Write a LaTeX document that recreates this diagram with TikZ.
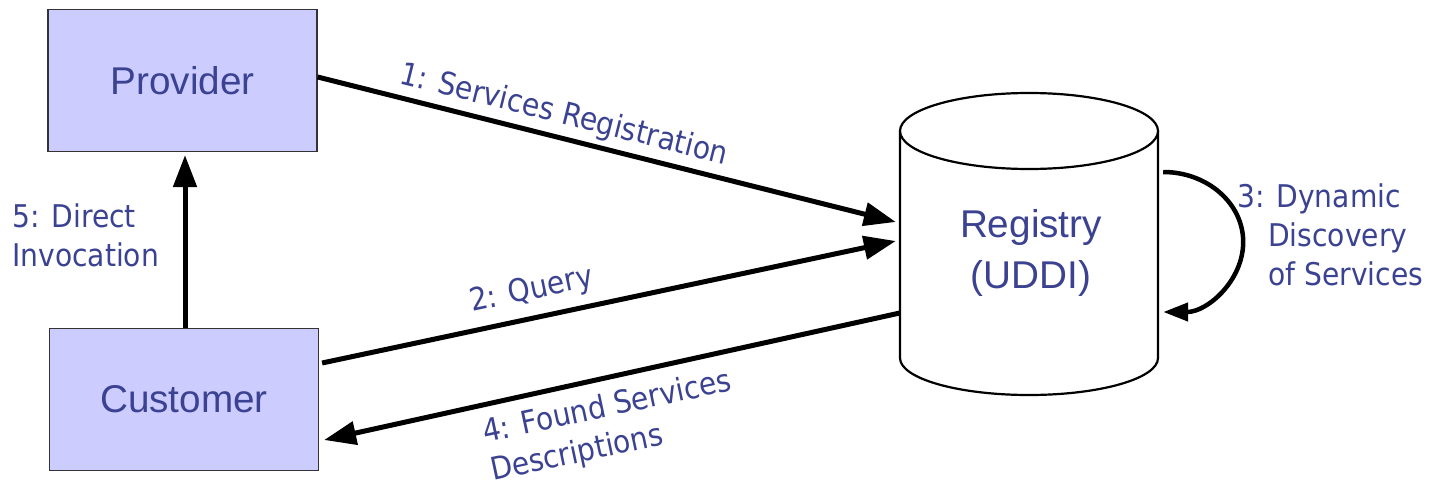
\documentclass[tikz,border=0pt]{standalone}
\usepackage{fontspec}
\usetikzlibrary{arrows.meta,calc}
\setmainfont{Liberation Sans}
\newfontfamily\lblfont{DejaVu Sans}[FakeStretch=0.9]
\definecolor{inkblue}{RGB}{59,66,145}
\definecolor{boxfill}{RGB}{204,204,255}
\tikzset{
  actor/.style={draw=black!80, line width=1.2pt, fill=boxfill, minimum width=269pt,
    minimum height=142pt, inner sep=0pt, text=inkblue,
    font=\fontsize{38.7}{46}\selectfont},
  regtext/.style={text=inkblue, align=center, inner sep=0pt,
    font=\fontsize{38.7}{51}\selectfont},
  cyl/.style={draw=black, line width=2.2pt, fill=white},
  flow/.style={line width=5pt, -{Triangle[length=32pt,width=23pt]}},
  loopflow/.style={line width=4.5pt, -{Triangle[length=25pt,width=18pt]}},
  msg/.style={text=inkblue, inner sep=0pt, font=\lblfont\fontsize{31.3}{39}\selectfont}
}
\begin{document}
\begin{tikzpicture}[x=1pt,y=1pt]
\useasboundingbox (0,0) rectangle (1434,-489);

% parties
\node[actor] (provider) at (182.5,-80.5) {Provider};
\node[actor] (customer) at (184,-399.5) {Customer};

% registry cylinder
\node[minimum width=258pt, minimum height=302pt, inner sep=0pt] (registry) at (1029,-244) {};
\draw[cyl] (900,-131) -- (900,-358)
  arc[start angle=180, end angle=360, x radius=129, y radius=37] -- (1158,-131);
\draw[cyl] (1029,-131) ellipse[x radius=129, y radius=38];
\node[regtext, anchor=base] (regname) at (1031,-288) {Registry\\(UDDI)};

% message flows
\draw[flow] ($(provider.east)+(0,3.5)$) -- ($(registry.west)+(-4,22)$);
\draw[flow] ($(customer.east)+(3,36.5)$) -- ($(registry.west)+(-4,3)$);
\draw[flow] ($(registry.west)+(0,-69)$) -- ($(customer.east)+(5,-40.5)$);
\draw[flow] ($(customer.north)+(1,0)$) -- ($(provider.south)+(2.5,-3)$);
\draw[loopflow] ($(registry.east)+(5,72)$)
  arc[start angle=90, end angle=-90, x radius=80, y radius=70];

% flow labels (multi-line labels are anchored at their last line)
\node[msg, rotate=-14, anchor=base west] (lbl1) at (398,-83) {1: Services Registration};
\node[msg, rotate=12, anchor=base west] (lbl2) at (472,-312) {2: Query};
\node[msg, rotate=12, anchor=base west, align=left] (lbl4) at (493,-481) {4: Found Services\\Descriptions};
\node[msg, anchor=base west, align=left] (lbl3) at (1237,-285) {3: Dynamic\\\hspace*{31pt}Discovery\\\hspace*{31pt}of Services};
\node[msg, anchor=base west, align=left] (lbl5) at (12,-266) {5: Direct\\Invocation};
\end{tikzpicture}
\end{document}
